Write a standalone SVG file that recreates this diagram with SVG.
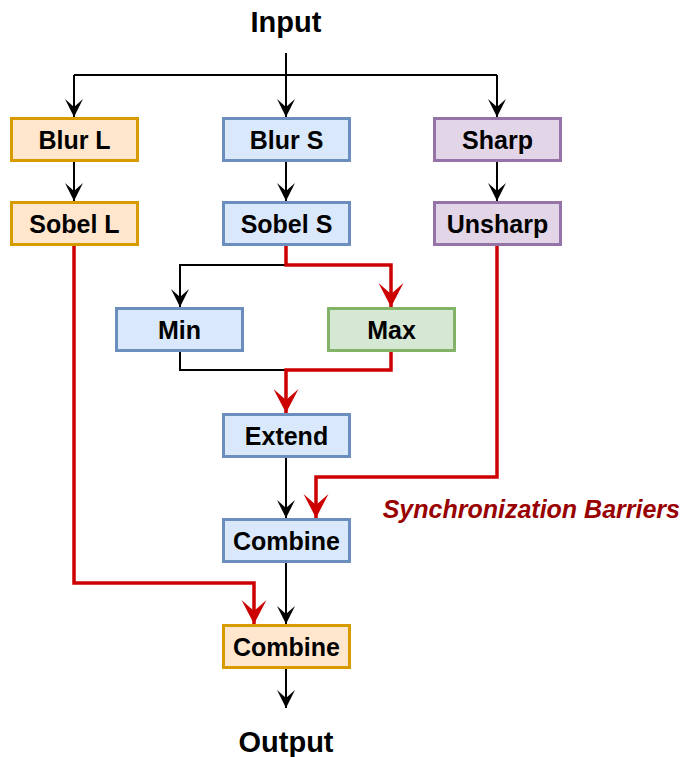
<svg xmlns="http://www.w3.org/2000/svg" width="684" height="757" viewBox="0 0 684 757">
<style>
.box{stroke-width:3}
.orange{fill:#ffe6cc;stroke:#d79b00}
.blue{fill:#dae8fc;stroke:#6c8ebf}
.purple{fill:#e1d5e7;stroke:#9673a6}
.green{fill:#d5e8d4;stroke:#82b366}
.lbl{font-family:"Liberation Sans",Arial,Helvetica,sans-serif;font-weight:bold;font-size:25px;fill:#000;text-anchor:middle}
.io{font-family:"Liberation Sans",Arial,Helvetica,sans-serif;font-weight:bold;font-size:29px;fill:#000;text-anchor:middle}
.note{font-family:"Liberation Sans",Arial,Helvetica,sans-serif;font-weight:bold;font-style:italic;font-size:25px;fill:#990000}
.blk{fill:none;stroke:#000;stroke-width:2;marker-end:url(#ab)}
.red{fill:none;stroke:#cc0000;stroke-width:3.5;marker-end:url(#ar)}
.plain{fill:none;stroke:#000;stroke-width:2}
</style>
<defs>
<marker id="ab" markerUnits="userSpaceOnUse" markerWidth="18" markerHeight="18" viewBox="0 0 18 18" refX="18" refY="9" orient="auto">
<path d="M0,0 L18,9 L0,18 L8,9 Z" fill="#000"/>
</marker>
<marker id="ar" markerUnits="userSpaceOnUse" markerWidth="24" markerHeight="26" viewBox="0 0 24 26" refX="24" refY="13" orient="auto">
<path d="M0,0.5 L24,13 L0,25.5 L11,13 Z" fill="#cc0000"/>
</marker>
</defs>
<g id="connectors">
<path class="plain" d="M286,53 V75 M74,75 H497"/>
<path class="blk" d="M286,53 V117"/>
<path class="blk" d="M74,75 V117"/>
<path class="blk" d="M497,75 V117"/>
<path class="blk" d="M74,162 V201"/>
<path class="blk" d="M286,162 V201"/>
<path class="blk" d="M497,162 V201"/>
<path class="blk" d="M286,246 V265 H180 V307"/>
<path class="plain" d="M180,351 V370 H286"/>
<path class="blk" d="M286,457 V518"/>
<path class="blk" d="M286,563 V624"/>
<path class="blk" d="M286,669 V708"/>
<path class="red" d="M286,246 V265 H391 V307"/>
<path class="red" d="M391,351 V370 H286 V413"/>
<path class="red" d="M497,246 V477 H316 V518"/>
<path class="red" d="M74,246 V583 H254 V624"/>
</g>
<g id="input"><text class="io" x="286" y="32">Input</text></g>
<g id="blurL"><rect class="box orange" x="11.5" y="118.5" width="126" height="42"/><text class="lbl" x="74.5" y="148.5">Blur L</text></g>
<g id="blurS"><rect class="box blue" x="223.5" y="118.5" width="126" height="42"/><text class="lbl" x="286.5" y="148.5">Blur S</text></g>
<g id="sharp"><rect class="box purple" x="434.5" y="118.5" width="126" height="42"/><text class="lbl" x="497.5" y="148.5">Sharp</text></g>
<g id="sobelL"><rect class="box orange" x="11.5" y="202.5" width="126" height="42"/><text class="lbl" x="74.5" y="232.5">Sobel L</text></g>
<g id="sobelS"><rect class="box blue" x="223.5" y="202.5" width="126" height="42"/><text class="lbl" x="286.5" y="232.5">Sobel S</text></g>
<g id="unsharp"><rect class="box purple" x="434.5" y="202.5" width="126" height="42"/><text class="lbl" x="497.5" y="232.5">Unsharp</text></g>
<g id="min"><rect class="box blue" x="116.5" y="308.5" width="126" height="42"/><text class="lbl" x="179.5" y="338.5">Min</text></g>
<g id="max"><rect class="box green" x="328.5" y="308.5" width="126" height="42"/><text class="lbl" x="391.5" y="338.5">Max</text></g>
<g id="extend"><rect class="box blue" x="223.5" y="414.5" width="126" height="42"/><text class="lbl" x="286.5" y="444.5">Extend</text></g>
<g id="combine1"><rect class="box blue" x="223.5" y="519.5" width="126" height="42"/><text class="lbl" x="286.5" y="549.5">Combine</text></g>
<g id="combine2"><rect class="box orange" x="223.5" y="625.5" width="126" height="42"/><text class="lbl" x="286.5" y="655.5">Combine</text></g>
<g id="output"><text class="io" x="286" y="752">Output</text></g>
<g id="note"><text class="note" x="680" y="518" text-anchor="end">Synchronization Barriers</text></g>
</svg>
